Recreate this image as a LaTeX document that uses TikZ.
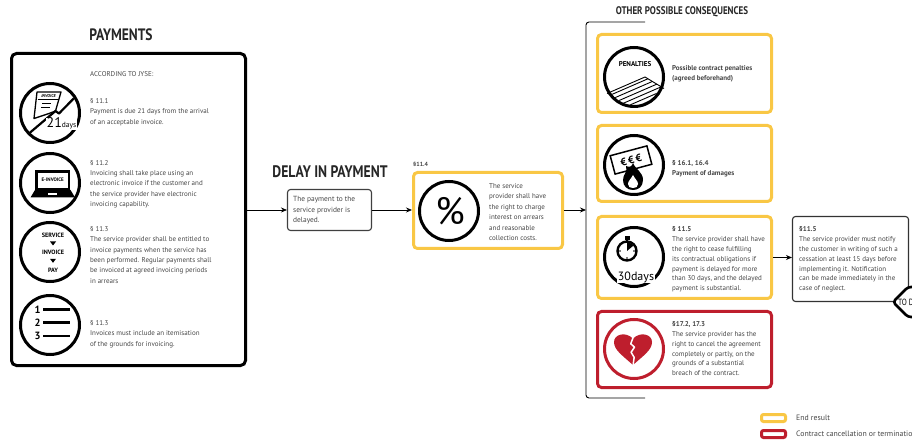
\documentclass[tikz,border=0pt]{standalone}
\usepackage{fontspec}
\setmainfont{PT Sans}
\newfontfamily\headfont{PT Sans}[FakeStretch=0.82]
\usepackage{tikz}
\usepackage{xcolor}
\usetikzlibrary{arrows.meta}
\definecolor{endyel}{RGB}{249,199,69}
\definecolor{cutred}{RGB}{190,30,45}
\definecolor{txtgray}{RGB}{70,70,70}
\begin{document}
\begin{tikzpicture}[x=1pt,y=-1pt,
  txt/.style={font=\fontsize{7}{10.3}\selectfont,text=txtgray,align=left,anchor=north west,inner sep=0pt},
  head/.style={font=\headfont\bfseries\fontsize{16.5}{16.5}\selectfont,text=black!85,inner sep=0pt},
  ring/.style={circle,draw,line width=3pt,minimum size=59pt,inner sep=0pt},
  endbox/.style={draw=endyel,fill=white,line width=3pt,rounded corners=4pt},
  cutbox/.style={draw=cutred,fill=white,line width=3pt,rounded corners=4pt},
  icontxt/.style={font=\bfseries\fontsize{6.2}{6.2}\selectfont,inner sep=0pt},
  flow/.style={-{Stealth[length=6pt,width=5pt]},line width=0.8pt}]
\useasboundingbox (0,0) rectangle (912,443);
\clip (0,0) rectangle (912,443);

\node (payhead) at (121,35) [head] {PAYMENTS};
\node (paybox) at (128.5,209.5) [draw,line width=3pt,rounded corners=5pt,minimum width=234pt,minimum height=312pt] {};
\node (jyse) at (90,71.5) [txt] {ACCORDING TO JYSE:};
\node (p111) at (90,98.5) [txt] {§ 11.1\\Payment is due 21 days from the arrival\\of an acceptable invoice.};
\node (p112) at (90,160) [txt] {§ 11.2\\Invoicing shall take place using an\\electronic invoice if the customer and\\the service provider have electronic\\invoicing capability.};
\node (p113) at (90,226.5) [txt] {§ 11.3\\The service provider shall be entitled to\\invoice payments when the service has\\been performed. Regular payments shall\\be invoiced at agreed invoicing periods\\in arrears};
\node (p113b) at (90,320.5) [txt] {§ 11.3\\Invoices must include an itemisation\\of the grounds for invoicing.};

\node (invring) at (50,113) [ring] {};
\begin{scope}
\clip (50,113) circle (28pt);
\draw[line width=1.3pt,line join=round,fill=white] (37,92) -- (61,92) -- (55.5,111) -- (49,113.5) -- (34,118.5) -- cycle;
\draw[line width=0.8pt] (37.5,99.5) -- (59,99.5);
\draw[line width=1pt] (42,104) -- (51,104) (41,108) -- (50,108);
\draw[line width=2.2pt,line join=round] (82,90) -- (59,113.5) -- (55.5,111) -- (26,136);
\end{scope}
\node (invlbl) at (48.5,96) [font=\bfseries\itshape\fontsize{4.2}{4.2}\selectfont,inner sep=0pt] {INVOICE};
\node (days21) at (46,128) [anchor=base west,fill=white,inner sep=0.5pt] {\fontsize{14}{14}\selectfont 21\fontsize{7.5}{7.5}\selectfont days};

\node (laptopring) at (50,183) [ring] {};
\draw[line width=2.6pt] (36.5,171.5) rectangle (69,189);
\node (einv) at (52.7,180.2) [icontxt,font=\bfseries\fontsize{5}{5}\selectfont] {E-INVOICE};
\fill (35,190) -- (70.5,190) -- (75,197.5) -- (30.5,197.5) -- cycle;
\fill[white] (48,193.2) rectangle (57,195.4);

\node (stepring) at (50,252) [ring] {};
\node (svc) at (53,235) [icontxt] {SERVICE};
\fill (50,241.5) -- (56,241.5) -- (53,245.5) -- cycle;
\node (inv) at (53,252.3) [icontxt] {INVOICE};
\fill (50,258.8) -- (56,258.8) -- (53,262.8) -- cycle;
\node (payw) at (53,270) [icontxt] {PAY};

\node (listring) at (50,325) [ring] {};
\foreach \n/\y in {1/309.7,2/322.7,3/336} {
  \node (num\n) at (37.5,\y) [font=\bfseries\fontsize{10.5}{10.5}\selectfont,inner sep=0pt] {\n};
  \draw[line width=2.6pt] (43,\y) -- (70,\y);
}

\node (delayhead) at (330,172) [head,font=\headfont\bfseries\fontsize{16.7}{16.7}\selectfont] {DELAY IN PAYMENT};
\node (delaybox) at (329.5,210) [draw=black!75,line width=1.1pt,rounded corners=3pt,minimum width=84pt,minimum height=41pt] {};
\node (delaytxt) at (293,196) [txt,font=\fontsize{7.4}{10.7}\selectfont] {The payment to the\\service provider is\\delayed.};

\node (intlbl) at (413,164) [anchor=west,inner sep=0pt,font=\bfseries\fontsize{6}{6}\selectfont,text=txtgray] {§11.4};
\node (intbox) at (488,210.5) [endbox,minimum width=149pt,minimum height=76pt] {};
\node (pctring) at (449,211) [ring] {};
\node (pct) at (450,211) [inner sep=0pt,font=\fontsize{38}{38}\selectfont] {\%};
\node (inttxt) at (489,183) [txt,font=\fontsize{7}{10.5}\selectfont] {The service\\provider shall have\\the right to charge\\interest on arrears\\and reasonable\\collection costs.};

\draw[flow] (paybox.east |- delaybox.west) -- (delaybox.west);
\draw[flow] (delaybox.east) -- (delaybox.east -| intbox.west);
\coordinate (brk) at (586,210);
\draw[flow] (intbox.east |- brk) -- (brk);
\draw[line width=0.9pt,rounded corners=3pt] (645,22) -- (586,22) -- (586,398) -- (645,398);

\node (conshead) at (682,12) [head,font=\headfont\bfseries\fontsize{11}{11}\selectfont] {OTHER POSSIBLE CONSEQUENCES};
\node (pen) at (684.5,73.5) [endbox,minimum width=174pt,minimum height=78pt] {};
\node (dam) at (684.5,163.5) [endbox,minimum width=174pt,minimum height=76pt] {};
\node (stop) at (684.5,257.5) [endbox,minimum width=174pt,minimum height=82pt] {};
\node (cancel) at (684.5,349.5) [cutbox,minimum width=174pt,minimum height=76pt] {};

\node (penring) at (634,77) [ring] {};
\node (pentxt) at (635,64) [icontxt,font=\bfseries\fontsize{7}{7}\selectfont] {PENALTIES};
\begin{scope}
\clip (634,77) circle (28pt);
\clip (607,93.5) -- (645,77) -- (667,90) -- (667,112) -- (600,112) -- cycle;
\foreach \k in {1,...,8} \draw[line width=0.9pt] (600,95+\k*4.6) -- ++(70,-30.4);
\end{scope}
\draw[line width=0.9pt] (607,93.5) -- (645,77) -- (664,88.5);
\node (pentext) at (672,65.5) [txt] {\bfseries Possible contract penalties\\\bfseries (agreed beforehand)};

\node (damring) at (634,165) [ring] {};
\node (note) at (631,160) [draw,fill=white,line width=1.5pt,rotate=15,minimum width=38pt,minimum height=19pt,inner sep=0pt,font=\bfseries\fontsize{10.5}{10.5}\selectfont] {€\,€\,€};
\fill (633,163) .. controls (636,170) and (643,172) .. (643,180) .. controls (643,187) and (638,190) .. (633,190) .. controls (627,190) and (623,186) .. (623,180) .. controls (623,174) and (628,172) .. (626,166) .. controls (630,168) and (632,166) .. (633,163) -- cycle;
\fill[white] (633,175) .. controls (635,179) and (638,181) .. (638,184) .. controls (638,187) and (636,188) .. (633,188) .. controls (630,188) and (628,187) .. (628,184) .. controls (628,181) and (631,179) .. (633,175) -- cycle;
\node (damtext) at (672,160) [txt] {\bfseries § 16.1, 16.4\\\bfseries Payment of damages};

\node (stopring) at (634,257) [ring] {};
\draw[line width=2.4pt] (627,251) circle (9.5pt);
\fill (624.5,236.5) rectangle (629.5,240);
\fill (626,239.5) rectangle (628,242.5);
\fill (627,251) -- (627,242.5) arc[start angle=90,end angle=40,radius=8.5pt] -- cycle;
\fill (634,251) circle (0.8pt) (627,258) circle (0.8pt) (620,251) circle (0.8pt);
\node (days30) at (636,277) [fill=white,inner sep=0.5pt,font=\fontsize{12}{12}\selectfont] {30days};
\node (stoptext) at (672,226.8) [txt,font=\fontsize{7}{9.8}\selectfont] {\bfseries § 11.5\\The service provider shall have\\the right to cease fulfilling\\its contractual obligations if\\payment is delayed for more\\than 30 days, and the delayed\\payment is substantial.};

\node (heartring) at (634,349) [ring,draw=cutred] {};
\begin{scope}[shift={(633,348)},x=19pt,y=17pt]
\fill[cutred] (0,-1) .. controls (-0.6,-0.4) and (-1,-0.1) .. (-1,0.35) .. controls (-1,0.8) and (-0.4,1) .. (0,0.55) .. controls (0.4,1) and (1,0.8) .. (1,0.35) .. controls (1,-0.1) and (0.6,-0.4) .. (0,-1) -- cycle;
\draw[white,line width=1.5pt,line join=bevel] (0,0.6) -- (-0.12,0.25) -- (0.08,0.05) -- (-0.1,-0.25) -- (0.06,-0.55) -- (0,-1.05);
\end{scope}
\node (canceltext) at (672,321.5) [txt,font=\fontsize{7}{9.8}\selectfont] {\bfseries §17.2, 17.3\\The service provider has the\\right to cancel the agreement\\completely or partly, on the\\grounds of a substantial\\breach of the contract.};

\node (notice) at (850.5,259) [draw=black!80,fill=white,line width=1.1pt,rounded corners=3pt,minimum width=116pt,minimum height=85pt] {};
\node (noticetext) at (799,226.8) [txt,font=\fontsize{7}{9.8}\selectfont] {\bfseries §11.5\\The service provider must notify\\the customer in writing of such a\\cessation at least 15 days before\\implementing it. Notification\\can be made immediately in the\\case of neglect.};
\draw[flow] (stop.east) -- (stop.east -| notice.west);

\draw[line width=2.6pt,fill=white,rounded corners=3pt] (893,302) -- (908,287) -- (960,287) -- (975,302) -- (960,317) -- (908,317) -- cycle;
\node (todo) at (898,302) [anchor=west,inner sep=0pt,font=\headfont\fontsize{9}{9}\selectfont] {TO D};

\node (legend1) at (773.5,418) [endbox,rounded corners=2pt,minimum width=24pt,minimum height=7pt,inner sep=0pt] {};
\node (legend1t) at (796,418) [anchor=west,inner sep=0pt,font=\fontsize{7.8}{7.8}\selectfont,text=txtgray] {End result};
\node (legend2) at (773.5,434) [cutbox,rounded corners=2pt,minimum width=24pt,minimum height=7pt,inner sep=0pt] {};
\node (legend2t) at (796,434) [anchor=west,inner sep=0pt,font=\fontsize{7.8}{7.8}\selectfont,text=txtgray] {Contract cancellation or termination};
\end{tikzpicture}
\end{document}
